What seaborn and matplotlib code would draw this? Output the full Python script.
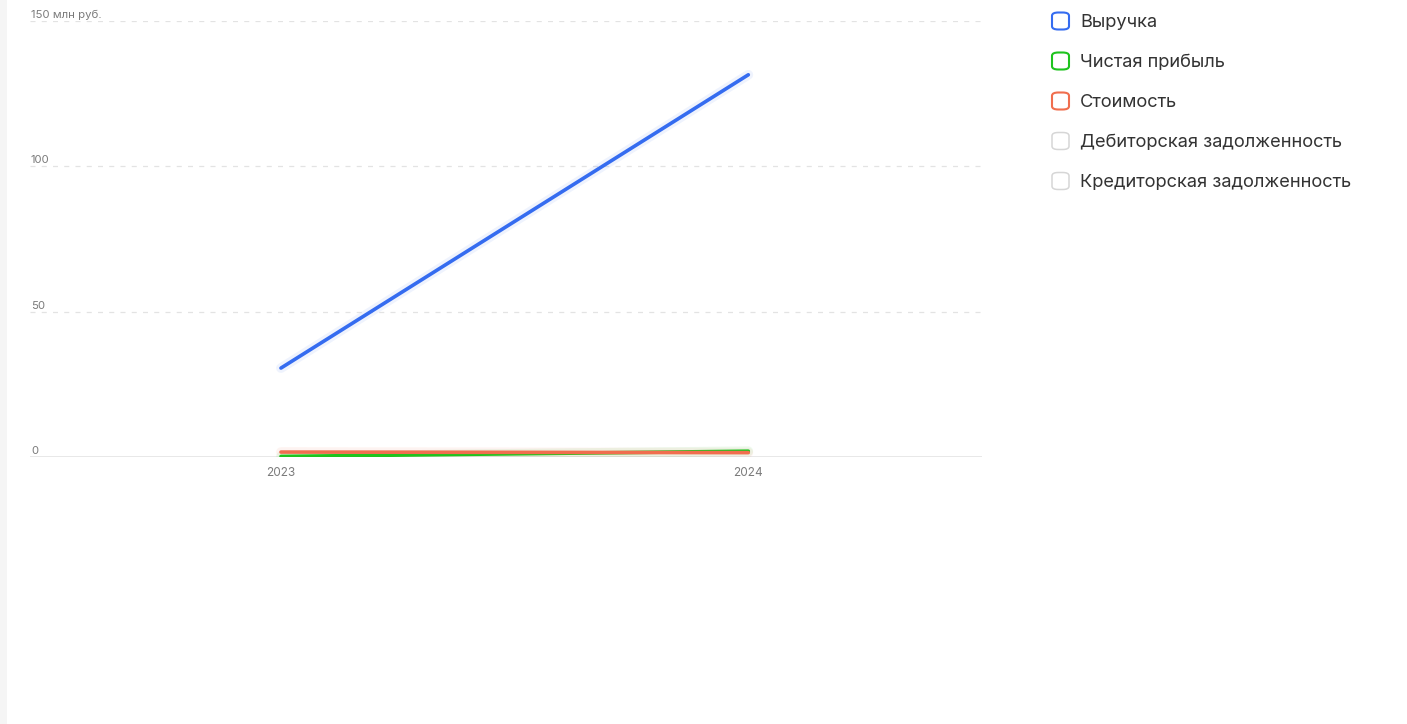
import matplotlib
matplotlib.use("Agg")
import matplotlib.pyplot as plt
from matplotlib.patches import FancyBboxPatch, Rectangle
import pandas as pd
import seaborn as sns

# Data (млн руб.)
years = ["2023", "2024"]
revenue = [30.6, 131.5]
net_profit = [0.2, 2.0]
cost = [1.7, 1.5]

series_names = [
    "Выручка",
    "Чистая прибыль",
    "Стоимость",
    "Дебиторская задолженность",
    "Кредиторская задолженность",
]
series_colors = ["#356cf0", "#1ec31e", "#f06e4e", "#d6d6d6", "#d6d6d6"]
active = [True, True, True, False, False]

y_ticks = [0, 50, 100, 150]
y_tick_labels = ["0", "50", "100", "150 млн руб."]

sns.set_theme(style="white")
plt.rcParams["font.family"] = ["Inter", "DejaVu Sans"]

df = pd.DataFrame({
    "year": years * 3,
    "value": revenue + net_profit + cost,
    "series": [series_names[0]] * 2 + [series_names[1]] * 2 + [series_names[2]] * 2,
})

fig = plt.figure(figsize=(14.07, 7.24), dpi=100)
ax = fig.add_axes([30 / 1407, 1 - 457 / 724, 952 / 1407, 436 / 724])

# faint glow under lines
for name, color in zip(series_names[:3], series_colors[:3]):
    sub = df[df["series"] == name]
    ax.plot(range(len(sub)), sub["value"].values, color=color, lw=7, alpha=0.08,
            solid_capstyle="round", zorder=2)

sns.lineplot(data=df, x="year", y="value", hue="series",
             palette=dict(zip(series_names[:3], series_colors[:3])),
             linewidth=2.6, ax=ax, legend=False, zorder=3)
for line in ax.get_lines():
    line.set_solid_capstyle("round")

ax.set_xlim(-0.537, 1.5)
ax.set_ylim(0, 150)
ax.set_xlabel("")
ax.set_ylabel("")
for s in ax.spines.values():
    s.set_visible(False)

for y in y_ticks[1:]:
    ax.axhline(y, color="#e3e3e3", lw=0.9, ls=(0, (4, 5)), zorder=1)
ax.axhline(0, color="#e6e6e6", lw=1.3, zorder=1)

ax.set_yticks([])
ax.set_xticks(range(len(years)))
ax.set_xticklabels(years, fontsize=8.5, color="#7b7b7b")
ax.tick_params(axis="x", length=0, pad=7)

# y labels sit just above their grid lines
for y, lab in zip(y_ticks, y_tick_labels):
    ax.text(0.001, y + 0.4, lab, transform=ax.get_yaxis_transform(), ha="left",
            va="bottom", fontsize=8.2, color="#7b7b7b")

# left grey strip
fig.patches.append(Rectangle((0, 0), 7 / 1407, 1, transform=fig.transFigure,
                             facecolor="#f5f5f5", edgecolor="none"))

# legend with checkbox style markers
for i, (name, color, on) in enumerate(zip(series_names, series_colors, active)):
    yc = 1 - (21 + 40 * i) / 724
    box = FancyBboxPatch((1052 / 1407, yc - 8.5 / 724), 17 / 1407, 17 / 724,
                         boxstyle="round,pad=0,rounding_size=0.0045",
                         transform=fig.transFigure, facecolor="white",
                         edgecolor=color, lw=1.5 if on else 1.1)
    fig.patches.append(box)
    fig.text(1080 / 1407, yc - 1.5 / 724, name, fontsize=13.15, color="#333333",
             va="center", ha="left")

fig.savefig("out.png", dpi=100)
